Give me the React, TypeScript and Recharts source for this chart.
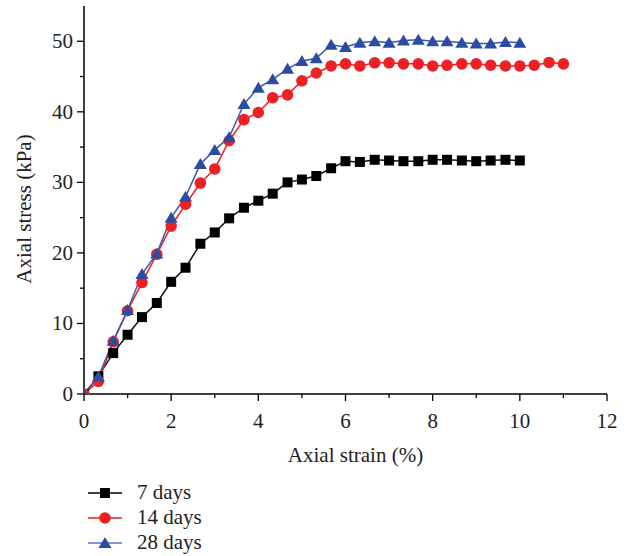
import React from 'react';
import { LineChart, Line, XAxis, YAxis, Legend } from 'recharts';

const strain = [0, 0.33, 0.67, 1, 1.33, 1.67, 2, 2.33, 2.67, 3, 3.33, 3.67, 4, 4.33, 4.67, 5, 5.33, 5.67, 6, 6.33, 6.67, 7, 7.33, 7.67, 8, 8.33, 8.67, 9, 9.33, 9.67, 10, 10.33, 10.67, 11];
const stress7 = [0, 2.5, 5.8, 8.4, 10.9, 12.9, 15.9, 17.9, 21.3, 22.9, 24.9, 26.4, 27.4, 28.4, 30.0, 30.4, 30.9, 32.0, 33.0, 32.9, 33.2, 33.1, 33.0, 33.0, 33.2, 33.2, 33.1, 33.0, 33.1, 33.2, 33.1];
const stress14 = [0, 1.8, 7.4, 11.8, 15.8, 19.8, 23.8, 26.9, 29.9, 31.9, 35.9, 38.9, 39.9, 42.0, 42.4, 44.4, 45.5, 46.5, 46.8, 46.5, 46.95, 46.95, 46.8, 46.8, 46.5, 46.6, 46.8, 46.8, 46.6, 46.5, 46.5, 46.6, 47.0, 46.8];
const stress28 = [0, 2.45, 7.55, 11.9, 17.0, 19.9, 25.0, 27.95, 32.6, 34.6, 36.4, 41.1, 43.4, 44.6, 46.1, 47.2, 47.6, 49.5, 49.2, 49.8, 50.0, 49.8, 50.1, 50.2, 50.0, 50.0, 49.8, 49.7, 49.7, 49.9, 49.8];
const seriesNames = ['7 days', '14 days', '28 days'];
const xTicks = [0, 1, 2, 3, 4, 5, 6, 7, 8, 9, 10, 11, 12];
const yTicks = [0, 5, 10, 15, 20, 25, 30, 35, 40, 45, 50];

const FONT = '"Liberation Serif", "Times New Roman", serif';
const FS = 21;

const toData = (vals: number[]) => vals.map((v, i) => ({ x: strain[i], y: v }));

const series = [
  { name: seriesNames[0], data: toData(stress7), color: '#000000', line: '#111111', legendLine: '#000000', shape: 'square' },
  { name: seriesNames[1], data: toData(stress14), color: '#ED2024', line: '#ED2024', legendLine: '#ED2024', shape: 'circle' },
  { name: seriesNames[2], data: toData(stress28), color: '#2C4CA2', line: '#3857AC', legendLine: '#5A77C0', shape: 'triangle' },
];

function Marker({ cx, cy, shape, color }: any) {
  if (cx == null || cy == null) return null;
  if (shape === 'square') {
    return <rect x={cx - 5} y={cy - 5} width={10} height={10} fill={color} />;
  }
  if (shape === 'circle') {
    return <circle cx={cx} cy={cy} r={5.8} fill={color} />;
  }
  const h = 11;
  const w = 13;
  return (
    <polygon
      points={`${cx},${cy - h / 2 - 0.5} ${cx - w / 2},${cy + h / 2 - 0.5} ${cx + w / 2},${cy + h / 2 - 0.5}`}
      fill={color}
    />
  );
}

const XTick = (props: any) => {
  const { x, y, payload } = props;
  const v = payload.value;
  const major = v % 2 === 0;
  return (
    <g>
      <line x1={x} x2={x} y1={y} y2={y + (major ? 7 : 4)} stroke="#000" strokeWidth={1.3} />
      {major && (
        <text x={x} y={y + 34} textAnchor="middle" fontFamily={FONT} fontSize={FS} fill="#222">
          {v}
        </text>
      )}
    </g>
  );
};

const YTick = (props: any) => {
  const { x, y, payload } = props;
  const v = payload.value;
  const major = v % 10 === 0;
  return (
    <g>
      <line x1={x} x2={x - (major ? 7 : 4)} y1={y} y2={y} stroke="#000" strokeWidth={1.3} />
      {major && (
        <text x={x - 11} y={y + 7} textAnchor="end" fontFamily={FONT} fontSize={FS} fill="#222">
          {v}
        </text>
      )}
    </g>
  );
};

const XLabel = (props: any) => {
  const vb = props.viewBox || {};
  const cx = vb.x + vb.width / 2 + 10;
  return (
    <text x={cx} y={vb.y + 68} textAnchor="middle" fontFamily={FONT} fontSize={FS} fill="#222">
      Axial strain (%)
    </text>
  );
};

const YLabel = (props: any) => {
  const vb = props.viewBox || {};
  const cy = vb.y + vb.height / 2 + 9;
  const cx = 24;
  return (
    <text
      x={cx}
      y={cy}
      transform={`rotate(-90 ${cx} ${cy})`}
      textAnchor="middle"
      dominantBaseline="central"
      fontFamily={FONT}
      fontSize={FS}
      fill="#222"
    >
      Axial stress (kPa)
    </text>
  );
};

const LegendContent = () => (
  <svg width={220} height={80}>
    {series.map((s, i) => {
      const cy = 15 + i * 25;
      return (
        <g key={s.name}>
          <line x1={8} x2={42} y1={cy} y2={cy} stroke={s.legendLine} strokeWidth={1.5} />
          <Marker cx={25} cy={cy} shape={s.shape} color={s.color} />
          <text x={57} y={cy + 6} fontFamily={FONT} fontSize={FS} fill="#222">
            {s.name}
          </text>
        </g>
      );
    })}
  </svg>
);

export default function App() {
  return (
    <div style={{ position: 'absolute', left: 0, top: 0, width: 631, height: 556, background: '#fff' }}>
      <LineChart width={631} height={556} margin={{ top: 6, right: 24, left: 24, bottom: 102 }}>
        <XAxis
          xAxisId="main"
          type="number"
          dataKey="x"
          domain={[0, 12]}
          ticks={xTicks}
          interval={0}
          height={60}
          tickSize={0}
          tickMargin={0}
          tickLine={false}
          tick={<XTick />}
          axisLine={{ stroke: '#000', strokeWidth: 1.5 }}
          allowDataOverflow
          label={{ content: <XLabel /> } as any}
        />
        <XAxis
          xAxisId="top"
          orientation="top"
          type="number"
          domain={[0, 12]}
          height={0}
          tick={false}
          tickLine={false}
          axisLine={{ stroke: '#555', strokeWidth: 1.8 }}
        />
        <YAxis
          yAxisId="main"
          type="number"
          domain={[0, 55]}
          ticks={yTicks}
          interval={0}
          width={60}
          tickSize={0}
          tickMargin={0}
          tickLine={false}
          tick={<YTick />}
          axisLine={{ stroke: '#000', strokeWidth: 1.5 }}
          allowDataOverflow
          label={{ content: <YLabel /> } as any}
        />
        <YAxis
          yAxisId="right"
          orientation="right"
          type="number"
          domain={[0, 55]}
          width={0}
          tick={false}
          tickLine={false}
          axisLine={{ stroke: '#444', strokeWidth: 1.8 }}
        />
        {series.map((s) => (
          <Line
            key={s.name}
            xAxisId="main"
            yAxisId="main"
            data={s.data}
            dataKey="y"
            name={s.name}
            type="linear"
            stroke={s.line}
            strokeWidth={1.5}
            isAnimationActive={false}
            dot={(p: any) => <Marker key={`${s.name}-${p.index}`} cx={p.cx} cy={p.cy} shape={s.shape} color={s.color} />}
            activeDot={false}
          />
        ))}
        <Legend
          layout="vertical"
          align="center"
          verticalAlign="middle"
          content={<LegendContent />}
          wrapperStyle={{ left: 80, top: 478, width: 220, height: 80 }}
        />
      </LineChart>
    </div>
  );
}
